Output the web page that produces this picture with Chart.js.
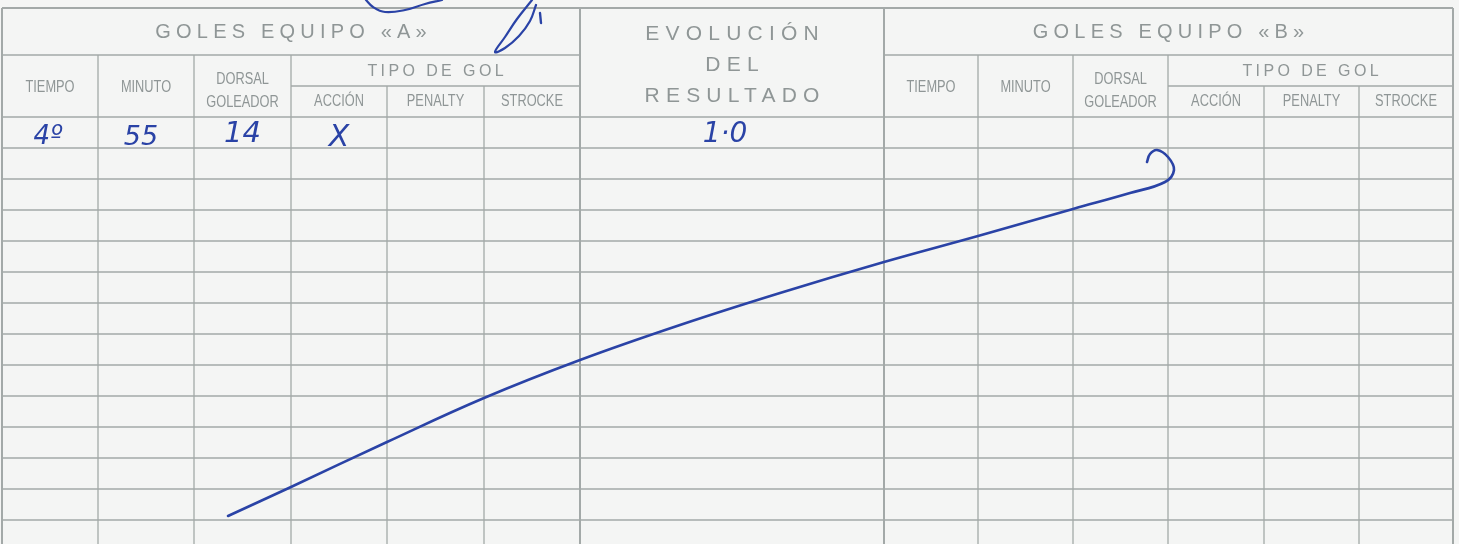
<!DOCTYPE html>
<html>
<head>
<meta charset="utf-8">
<script src="https://cdn.jsdelivr.net/npm/chart.js@4.4.1/dist/chart.umd.min.js"></script>
<style>
  html, body { margin:0; padding:0; background:#f4f5f4; }
  #wrap { width:1459px; height:544px; }
</style>
</head>
<body>
<div id="wrap"><canvas id="sheet"></canvas></div>
<script>
// ---- sheet content ----
const teamTitles   = ['GOLES EQUIPO «A»', 'GOLES EQUIPO «B»'];
const colLabels    = ['TIEMPO', 'MINUTO', ['DORSAL', 'GOLEADOR'], 'ACCIÓN', 'PENALTY', 'STROCKE'];
const tipoLabel    = 'TIPO DE GOL';
const centerTitle  = ['EVOLUCIÓN', 'DEL', 'RESULTADO'];
const goalTiempoA  = ['4º'];
const goalMinutoA  = ['55'];
const goalDorsalA  = ['14'];
const goalTipoA    = [3];          // column index: 3 = ACCIÓN
const resultado    = ['1·0'];

// pen stroke crossing the empty rows (sheet units)
const strokeX = [228, 291, 387, 484, 580, 680, 780, 884, 978, 1073, 1130, 1165, 1174, 1168, 1157, 1150, 1147];
const strokeY = [516, 487, 442, 398, 360, 325, 293, 262, 236, 209, 193, 182, 170, 157, 150, 154, 162];
// signature scribbles at the top edge
const sigAX = [366, 373, 385, 405, 425, 442];
const sigAY = [0, 7, 12, 10, 4, 0];
const sigBX = [532, 517, 505, 495, 505, 519, 530, 536];
const sigBY = [0, 19, 37, 52, 48, 36, 21, 5];
const sigCX = [540, 541];
const sigCY = [13, 23];

// ---- form layout ----
const layout = {
  width: 1459, height: 544,
  colsA: [2, 98, 194, 291, 387, 484, 580],
  colsB: [884, 978, 1073, 1168, 1264, 1359, 1453],
  top: 8, titleLine: 55, tipoLine: 86, headLine: 117, rowH: 31, rows: 14
};

const ink = '#2a43a6';
const lineCol = '#a3a9a8';
const textCol = '#8f9696';

const toPts = (xs, ys) => xs.map((x, i) => ({ x, y: ys[i] }));

const formPlugin = {
  id: 'form',
  beforeDatasetsDraw(chart) {
    const { ctx, scales: { x, y } } = chart;
    const X = v => x.getPixelForValue(v), Y = v => y.getPixelForValue(v);
    const L = layout;
    ctx.save();

    const line = (x1, y1, x2, y2, w = 1.4, c = lineCol) => {
      ctx.beginPath(); ctx.strokeStyle = c; ctx.lineWidth = w;
      ctx.moveTo(X(x1), Y(y1)); ctx.lineTo(X(x2), Y(y2)); ctx.stroke();
    };
    const text = (s, cx, cy, size, spacing = 0, sx = 1) => {
      ctx.save();
      ctx.font = `${size}px "Liberation Sans", Arial, sans-serif`;
      ctx.letterSpacing = spacing + 'px';
      ctx.fillStyle = textCol; ctx.textAlign = 'center'; ctx.textBaseline = 'middle';
      ctx.translate(X(cx), Y(cy)); ctx.scale(sx, 1);
      ctx.fillText(s, spacing / 2, 0);
      ctx.restore();
    };

    const left = L.colsA[0], right = L.colsB[6];
    const bottom = L.height + 10;

    // horizontal lines
    line(left, L.top, right, L.top, 2);
    [L.colsA, L.colsB].forEach(c => {
      line(c[0], L.titleLine, c[6], L.titleLine, 1.6);
      line(c[3], L.tipoLine, c[6], L.tipoLine, 1.3);
    });
    for (let r = 0; r < L.rows; r++) {
      const yy = L.headLine + r * L.rowH;
      line(left, yy, right, yy, r === 0 ? 1.6 : 1.3);
    }

    // vertical lines
    [L.colsA, L.colsB].forEach(c => {
      c.forEach((cx, i) => {
        const edge = i === 0 || i === 6;
        const yStart = edge ? L.top : (i >= 4 ? L.tipoLine : L.titleLine);
        line(cx, yStart, cx, bottom, edge ? 2 : 1.3);
      });
    });

    // headings
    [L.colsA, L.colsB].forEach((c, t) => {
      text(teamTitles[t], (c[0] + c[6]) / 2, 32, 20, 5.2);
      text(tipoLabel, (c[3] + c[6]) / 2, 72, 16, 3.4);
      colLabels.forEach((lab, i) => {
        const cx = (c[i] + c[i + 1]) / 2;
        if (Array.isArray(lab)) {
          text(lab[0], cx, 80, 16, 0, 0.8);
          text(lab[1], cx, 103, 16, 0, 0.8);
        } else {
          text(lab, cx, i >= 3 ? 102 : 88, 16, 0, 0.8);
        }
      });
    });
    const mid = (L.colsA[6] + L.colsB[0]) / 2;
    centerTitle.forEach((s, i) => text(s, mid, 34 + i * 31, 21, 6.2));

    // handwritten entries
    const hand = (s, cx, cy, size) => {
      ctx.save();
      ctx.font = `italic 300 ${size}px "DejaVu Sans", sans-serif`;
      ctx.fillStyle = ink; ctx.textAlign = 'center'; ctx.textBaseline = 'middle';
      ctx.fillText(s, X(cx), Y(cy));
      ctx.restore();
    };
    const c = L.colsA;
    goalTiempoA.forEach((s, r) => {
      const cy = L.headLine + r * L.rowH + 20;
      hand(s, (c[0] + c[1]) / 2 - 2, cy, 26);
      hand(goalMinutoA[r], (c[1] + c[2]) / 2 - 5, cy + 1, 27);
      hand(goalDorsalA[r], (c[2] + c[3]) / 2, cy - 3, 29);
      const k = goalTipoA[r];
      hand('X', (c[k] + c[k + 1]) / 2, cy + 1, 30);
      hand(resultado[r], mid - 7, cy - 2, 28);
    });

    ctx.restore();
  }
};

const penLine = (xs, ys, w) => ({
  data: toPts(xs, ys), showLine: true, borderColor: ink, borderWidth: w,
  pointRadius: 0, tension: 0.4, fill: false, borderCapStyle: 'round'
});

new Chart(document.getElementById('sheet'), {
  type: 'scatter',
  data: {
    datasets: [
      penLine(strokeX, strokeY, 2.6),
      penLine(sigAX, sigAY, 2.2),
      penLine(sigBX, sigBY, 2.2),
      penLine(sigCX, sigCY, 2.4)
    ]
  },
  options: {
    responsive: true, maintainAspectRatio: false, animation: false,
    layout: { padding: 0 },
    events: [],
    plugins: { legend: { display: false }, tooltip: { enabled: false } },
    scales: {
      x: { type: 'linear', display: false, min: 0, max: layout.width },
      y: { type: 'linear', display: false, min: 0, max: layout.height, reverse: true }
    }
  },
  plugins: [formPlugin]
});
</script>
</body>
</html>
